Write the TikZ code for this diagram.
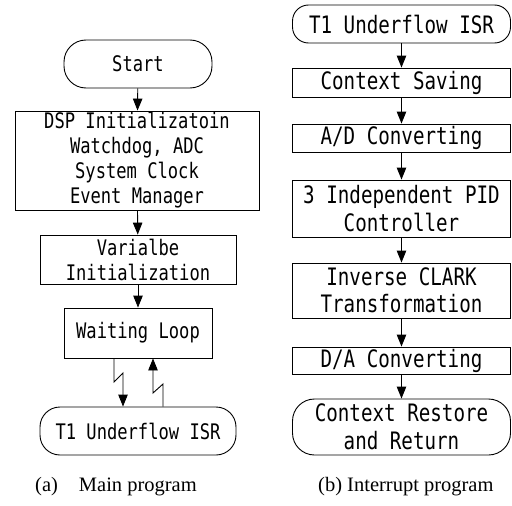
\documentclass[tikz,border=0pt]{standalone}
\usepackage{fontspec}
\setmainfont{Liberation Serif}
\newfontfamily\boxfont[FakeStretch=0.8]{DejaVu Sans Mono}
\usetikzlibrary{arrows.meta,calc}
\tikzset{
  boxL/.style={draw, line width=0.9pt, inner sep=0pt, align=center,
    font=\boxfont\fontsize{21.4}{25}\selectfont},
  boxR/.style={draw, line width=0.9pt, inner sep=0pt, align=center,
    minimum width=218pt, font=\boxfont\fontsize{24}{27.5}\selectfont},
  arr/.style={line width=0.9pt, -{Triangle[length=12pt,width=9.5pt]}},
  captext/.style={font=\fontsize{20.5}{24}\selectfont, anchor=base west, inner sep=0pt}
}
\begin{document}
\begin{tikzpicture}[x=1pt,y=-1pt]
\useasboundingbox (0,0) rectangle (512,506);
% left column
\node[boxL, rounded corners=22pt, minimum width=148pt, minimum height=48pt] (start) at (138,64) {Start};
\node[boxL, minimum width=244pt, minimum height=99pt] (dsp) at (137,160.5)
  {DSP Initializatoin\\Watchdog, ADC\\System Clock\\Event Manager};
\node[boxL, minimum width=196pt, minimum height=49pt] (var) at (138,259.5)
  {Varialbe\\Initialization};
\node[boxL, minimum width=148pt, minimum height=50pt] (wait) at (138,333) {Waiting Loop};
\node[boxL, rounded corners=20pt, minimum width=196pt, minimum height=48pt] (isrL) at (138,431)
  {T1 Underflow ISR};
\draw[arr] (start) -- (dsp);
\draw[arr] (dsp) -- (var);
\draw[arr] (var) -- (wait);
\coordinate (d1) at (114,382);
\coordinate (d2) at (123,373);
\coordinate (u1) at (163,384);
\coordinate (u2) at (153,393);
\draw[arr] (wait.south -| d1) -- (d1) -- (d2) -- (isrL.north -| d2);
\draw[arr] (isrL.north -| u1) -- (u1) -- (u2) -- (wait.south -| u2);
% right column
\node[boxR, rounded corners=16pt, minimum height=38pt] (isrR) at (401.5,24) {T1 Underflow ISR};
\node[boxR, minimum height=29pt] (cs) at (401.5,82.5) {Context Saving};
\node[boxR, minimum height=28pt] (ad) at (401.5,138) {A/D Converting};
\node[boxR, minimum height=57pt] (pid) at (401.5,208.5) {3 Independent PID\\Controller};
\node[boxR, minimum height=55pt] (clark) at (401.5,290.5) {Inverse CLARK\\Transformation};
\node[boxR, minimum height=27pt] (da) at (401.5,360.5) {D/A Converting};
\node[boxR, rounded corners=22pt, minimum height=56pt] (rest) at (401.5,427) {Context Restore\\and Return};
\draw[arr] (isrR) -- (cs);
\draw[arr] (cs) -- (ad);
\draw[arr] (ad) -- (pid);
\draw[arr] (pid) -- (clark);
\draw[arr] (clark) -- (da);
\draw[arr] (da) -- (rest);
% captions
\node[captext] (capa) at (35,491) {(a)\hspace{21pt}Main program};
\node[captext] (capb) at (318,491) {(b) Interrupt program};
\end{tikzpicture}
\end{document}
